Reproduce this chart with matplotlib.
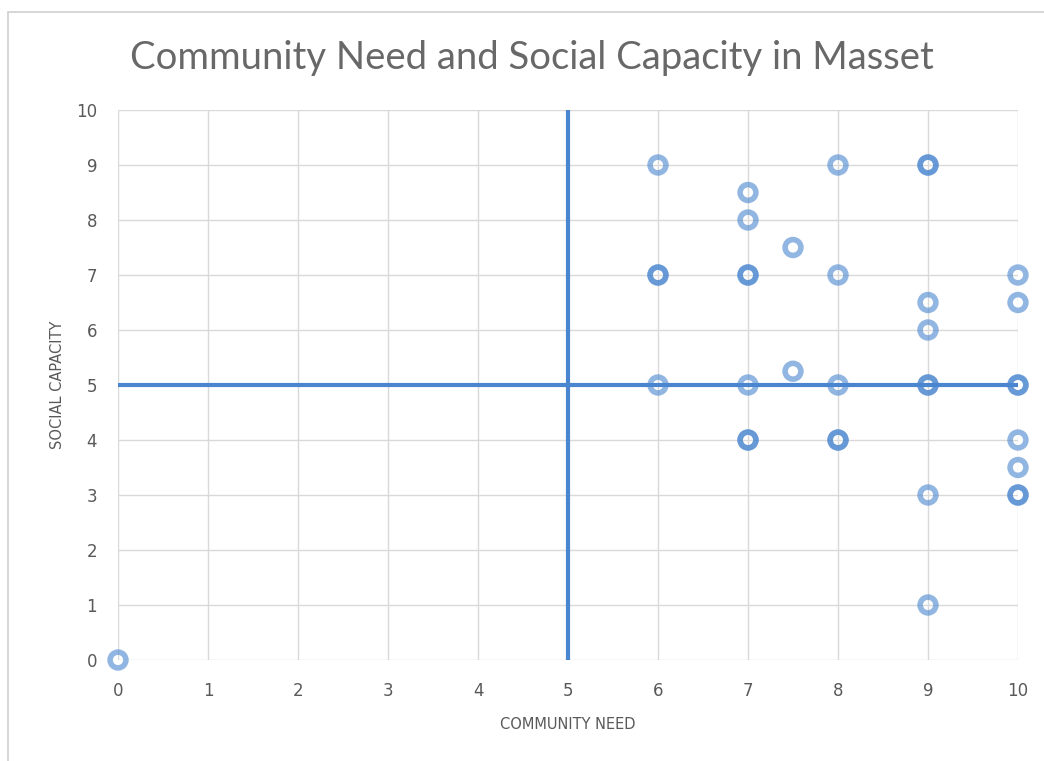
import matplotlib.pyplot as plt
from matplotlib.patches import Rectangle

# community need (x) vs social capacity (y), duplicates kept as separate rows
need = [0,
        6, 6, 6, 6,
        7, 7, 7, 7, 7, 7, 7,
        7.5, 7.5,
        8, 8, 8, 8, 8,
        9, 9, 9, 9, 9, 9, 9, 9,
        10, 10, 10, 10, 10, 10, 10, 10]
capacity = [0,
            9, 7, 7, 5,
            8.5, 8, 7, 7, 5, 4, 4,
            7.5, 5.25,
            9, 7, 5, 4, 4,
            9, 9, 6.5, 6, 5, 5, 3, 1,
            7, 6.5, 5, 5, 4, 3.5, 3, 3]

vline_x = [5, 5]
vline_y = [0, 10]
hline_x = [0, 10]
hline_y = [5, 5]

blue = "#4A86CF"
text_grey = "#595959"

fig = plt.figure(figsize=(10.44, 7.61), dpi=100)
fig.patches.append(Rectangle((8 / 1044, -0.1), 1.2, 1.1 - 12 / 761,
                             transform=fig.transFigure, fill=False,
                             edgecolor="#D0D0D0", linewidth=1.2))
ax = fig.add_axes([118 / 1044, 1 - 660 / 761, 900 / 1044, 550 / 761])

ax.plot(vline_x, vline_y, color=blue, linewidth=3, zorder=3, solid_capstyle="butt")
ax.scatter(need, capacity, s=11.4 ** 2, facecolors="none", edgecolors=blue,
           linewidths=4.0, alpha=0.6, zorder=4, clip_on=False)
ax.plot(hline_x, hline_y, color=blue, linewidth=3, zorder=5, solid_capstyle="butt")

ax.set_xlim(0, 10)
ax.set_ylim(0, 10)
ax.set_xticks(range(11))
ax.set_yticks(range(11))
ax.grid(True, color="#D9D9D9", linewidth=1)
ax.set_axisbelow(True)
for s in ax.spines.values():
    s.set_visible(False)
ax.tick_params(axis="x", length=0, labelsize=12, labelcolor=text_grey, pad=16)
ax.tick_params(axis="y", length=0, labelsize=12, labelcolor=text_grey, pad=15)

ax.set_xlabel("COMMUNITY NEED", fontsize=10.5, color=text_grey, labelpad=12)
ax.set_ylabel("SOCIAL CAPACITY", fontsize=10.5, color=text_grey, labelpad=8)
fig.text(532 / 1044, 1 - 58 / 761, "Community Need and Social Capacity in Masset",
         ha="center", va="center", fontsize=27.5, color="#686868", family="Lato")

fig.savefig("out.png", dpi=100)
